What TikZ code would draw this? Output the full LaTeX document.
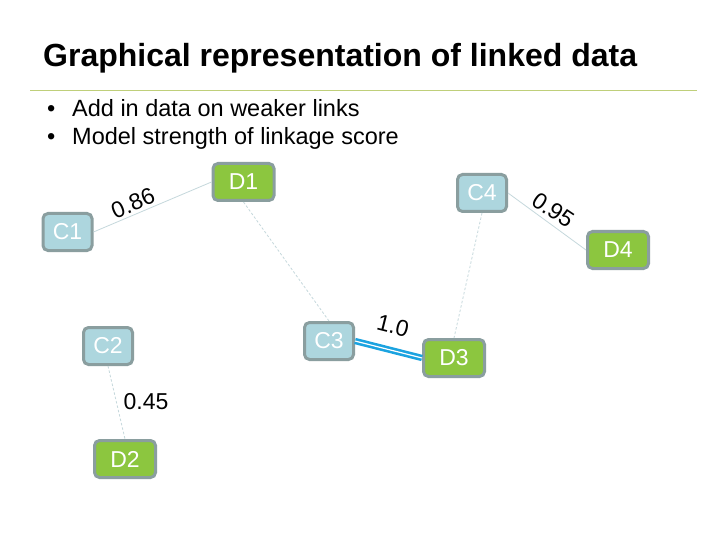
\documentclass[tikz,border=0pt]{standalone}
\usepackage{fontspec}
\setmainfont{Liberation Sans}
\definecolor{cfill}{HTML}{ADD6DE}
\definecolor{dfill}{HTML}{8CC63F}
\definecolor{nborder}{HTML}{8A9E9F}
\definecolor{rulec}{HTML}{BFCF7A}
\definecolor{edgec}{HTML}{C5D8DC}
\definecolor{bluelink}{HTML}{1BA3E0}
\begin{document}
\begin{tikzpicture}[x=1pt,y=-1pt,
  cbox/.style={draw=nborder,line width=3pt,fill=cfill,rounded corners=5pt,
    minimum width=49pt,minimum height=37pt,inner sep=0pt,text=white,font=\fontsize{23}{26}\selectfont},
  dbox/.style={cbox,fill=dfill,minimum width=61pt},
  weak/.style={draw=edgec,line width=0.8pt},
  weakdash/.style={weak,dash pattern=on 2.5pt off 2pt},
  strong/.style={draw=bluelink,line width=2.6pt,double=white,double distance=1.2pt},
  elabel/.style={font=\fontsize{23}{26}\selectfont,inner sep=0pt},
  bodytext/.style={font=\fontsize{23.5}{27}\selectfont,inner sep=0pt,anchor=base west}]
\useasboundingbox (0,0) rectangle (720,540);
\fill[white] (0,0) rectangle (720,540);
% title
\node[anchor=base west,inner sep=0pt,font=\bfseries\fontsize{32}{36}\selectfont] (title) at (43,66.5) {Graphical representation of linked data};
\draw[rulec,line width=1pt] (30,90.5) -- (697,90.5);
% bullets
\node[bodytext] (b1) at (47,117) {•};
\node[bodytext] (t1) at (72,117) {Add in data on weaker links};
\node[bodytext] (b2) at (47,145) {•};
\node[bodytext] (t2) at (72,145) {Model strength of linkage score};
% nodes
\node[cbox] (C1) at (67.5,232) {C1};
\node[dbox] (D1) at (243.5,182) {D1};
\node[cbox] (C4) at (482,193) {C4};
\node[dbox] (D4) at (618,250) {D4};
\node[cbox] (C3) at (329,341) {C3};
\node[dbox] (D3) at (454,358) {D3};
\node[cbox] (C2) at (108,346) {C2};
\node[dbox] (D2) at (125,459) {D2};
% edges
\draw[weak] (C1.east) -- (D1.west);
\draw[weakdash] (D1.south) -- (C3.north);
\draw[weakdash] (C4.south) -- (D3.north);
\draw[weak] (C4.east) -- (D4.west);
\draw[weakdash] (C2.south) -- (D2.north);
\draw[strong] (C3.east) -- (D3.west);
% edge labels
\node[elabel,rotate=23] (L1) at (133,203) {0.86};
\node[elabel,rotate=-34] (L2) at (553,210) {0.95};
\node[elabel,rotate=-14] (L3) at (393,326) {1.0};
\node[elabel] (L4) at (146,402) {0.45};
\end{tikzpicture}
\end{document}
